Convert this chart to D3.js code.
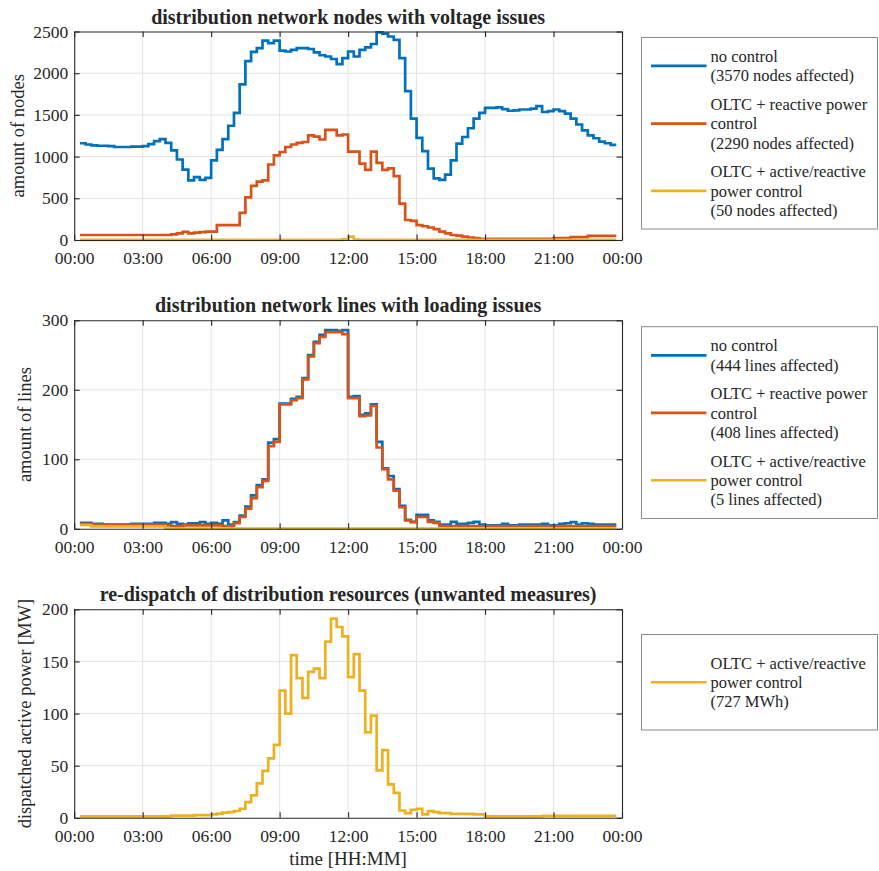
<!DOCTYPE html>
<html>
<head>
<meta charset="utf-8">
<script src="https://cdn.jsdelivr.net/npm/d3@7"></script>
<style>
  html, body { margin: 0; padding: 0; background: #fff; }
  svg text { font-family: "Liberation Serif", "Times New Roman", serif; fill: #262626; }
</style>
</head>
<body>
<svg id="fig" width="879" height="871"></svg>
<script>
// 15-minute resolution, samples from 00:15 to 23:45 (hours)
const timeHours = d3.range(95).map(i => 0.25 + 0.25 * i);
const xTickHours = [0, 3, 6, 9, 12, 15, 18, 21, 24];
const xTickLabels = ["00:00", "03:00", "06:00", "09:00", "12:00", "15:00", "18:00", "21:00", "00:00"];

// nodes with voltage issues
const nodesNoControl = [
  1160, 1145, 1135, 1130, 1130, 1125, 1115, 1115, 1115, 1120, 1120, 1125, 1150, 1185, 1210, 1165,
  1075, 965, 845, 715, 755, 720, 745, 955, 1080, 1210, 1370, 1525, 1865, 2145, 2255, 2300,
  2390, 2360, 2390, 2270, 2260, 2280, 2300, 2300, 2290, 2250, 2215, 2200, 2170, 2110, 2180, 2260,
  2200, 2280, 2310, 2350, 2490, 2475, 2440, 2400, 2180, 1785, 1455, 1225, 1065, 855, 740, 720,
  785, 955, 1155, 1235, 1340, 1455, 1525, 1585, 1585, 1590, 1570, 1550, 1555, 1565, 1565, 1575,
  1605, 1535, 1545, 1565, 1545, 1515, 1455, 1385, 1315, 1255, 1220, 1180, 1160, 1140, 1140
];
const nodesReactive = [
  60, 60, 60, 60, 60, 60, 60, 60, 60, 60, 60, 60, 60, 60, 60, 60,
  68, 80, 98, 80, 88, 95, 100, 100, 178, 178, 178, 178, 325, 510, 650, 700,
  715, 905, 1015, 1055, 1115, 1145, 1165, 1175, 1255, 1240, 1205, 1320, 1320, 1255, 1265, 1060,
  1060, 915, 840, 1060, 925, 840, 860, 765, 435, 240, 230, 178, 165, 150, 130, 100,
  80, 60, 52, 40, 30, 22, 15, 15, 15, 15, 15, 15, 15, 15, 15, 15,
  15, 15, 15, 22, 22, 22, 35, 35, 35, 50, 50, 50, 50, 50, 50
];
const nodesActiveReactive = [
  2, 2, 2, 2, 2, 2, 2, 2, 2, 2, 2, 2, 2, 2, 2, 2,
  2, 2, 2, 2, 2, 2, 2, 2, 2, 2, 2, 2, 2, 2, 2, 2,
  2, 2, 2, 2, 2, 2, 2, 2, 2, 2, 2, 2, 2, 2, 8, 40,
  4, 2, 2, 2, 2, 2, 2, 2, 2, 2, 2, 2, 2, 2, 2, 2,
  2, 2, 2, 2, 2, 2, 2, 2, 2, 2, 2, 2, 2, 2, 2, 2,
  2, 2, 2, 2, 2, 2, 2, 2, 2, 2, 2, 2, 2, 2, 2
];

// lines with loading issues
const linesNoControl = [
  8.5, 8.5, 7, 7, 6, 6, 6, 6, 6, 7, 7, 7, 7, 8.5, 8.5, 7,
  9.5, 7, 6, 8, 8, 9.5, 7, 8.5, 7, 12, 6, 9.5, 19, 32, 48, 63,
  71, 124, 129, 180, 180, 187, 190, 217, 250, 269, 279, 286, 286, 285, 286, 190,
  191, 164, 166, 179, 125, 87, 76, 57, 33, 13, 10, 20, 20, 12, 10, 6,
  6, 10, 7, 7, 8.5, 10, 6, 5, 5, 5, 7, 5, 5, 6, 6, 6,
  6, 7, 5, 5, 7, 8, 9.5, 6, 8, 7, 6, 6, 6, 6, 6
];
const linesReactive = [
  7, 7, 6, 6, 6, 5, 5, 5, 5, 6, 6, 6, 6, 6, 6, 5,
  4, 4, 5, 5, 5, 5, 5, 5, 5, 4, 4, 8, 17, 29, 44, 60,
  69, 119, 125, 179, 179, 185, 188, 215, 248, 267, 276, 283, 283, 283, 280, 188,
  188, 162, 163, 177, 117, 86, 71, 55, 31, 12, 9.5, 17, 17, 10, 8.5, 4,
  4, 4, 4, 4, 4, 4, 4, 4, 4, 4, 4, 4, 4, 4, 4, 4,
  4, 4, 4, 4, 4, 4, 4, 4, 4, 4, 4, 4, 4, 4, 4
];
const linesActiveReactive = [
  5.5, 5.5, 3.5, 3.5, 3.5, 3.5, 3.5, 3.5, 3.5, 3.5, 3.5, 3.5, 3.5, 3.5, 3.5, 0.4,
  0.4, 0.4, 0.4, 0.4, 0.4, 0.4, 0.4, 0.4, 0.4, 0.4, 0.4, 0.4, 0.4, 0.4, 0.4, 0.4,
  0.4, 0.4, 0.4, 0.4, 0.4, 0.4, 0.4, 0.4, 0.4, 0.4, 0.4, 0.4, 0.4, 0.4, 0.4, 0.4,
  0.4, 0.4, 0.4, 0.4, 0.4, 0.4, 0.4, 0.4, 0.4, 0.4, 0.4, 0.4, 0.4, 0.4, 0.4, 0.4,
  0.4, 0.4, 0.4, 0.4, 0.4, 0.4, 0.4, 0.4, 0.4, 0.4, 0.4, 0.4, 0.4, 0.4, 0.4, 0.4,
  0.4, 0.4, 0.4, 0.4, 0.4, 0.4, 0.4, 0.4, 0.4, 0.4, 0.4, 0.4, 0.4, 0.4, 0.4
];

// re-dispatched active power [MW]
const redispatchMW = [
  1.3, 1.3, 1.3, 1.3, 1.3, 1.3, 1.3, 1.3, 1.3, 1.3, 1.3, 1.3, 1.3, 1.3, 1.3, 1.3,
  2, 2, 2, 2, 2.5, 2.5, 2.5, 3.2, 4, 5, 5.5, 6.5, 8.7, 15, 21.5, 33,
  45, 57, 70, 122, 100, 156, 134, 115, 140, 143, 134, 169, 191, 183, 174, 135,
  157, 122, 82, 98, 45.5, 65, 32, 24, 7, 4.5, 7.7, 8.7, 3.2, 6.4, 5.4, 4.5,
  4.5, 3.8, 3.8, 3.8, 3.8, 3.2, 3.2, 1.3, 1.3, 1.3, 1.3, 1.3, 1.3, 1.3, 1.3, 1.3,
  1.3, 1.9, 1.9, 1.9, 1.9, 1.9, 1.9, 1.9, 1.9, 1.9, 1.9, 1.9, 1.9, 1.9, 1.9
];

const nodeTicks = [0, 500, 1000, 1500, 2000, 2500];
const lineTicks = [0, 100, 200, 300];
const powerTicks = [0, 50, 100, 150, 200];

const COLORS = { blue: "#0072BD", orange: "#D95319", yellow: "#EDB120" };

const panels = [
  {
    top: 31.5, yMax: 2500, yTicks: nodeTicks, yLabel: "amount of nodes", yLabelX: 18,
    title: "distribution network nodes with voltage issues",
    series: [
      { values: nodesNoControl, color: COLORS.blue, legend: ["no control", "(3570 nodes affected)"] },
      { values: nodesReactive, color: COLORS.orange, legend: ["OLTC + reactive power", "control", "(2290 nodes affected)"] },
      { values: nodesActiveReactive, color: COLORS.yellow, legend: ["OLTC + active/reactive", "power control", "(50 nodes affected)"] }
    ],
    legendBox: { top: 37.5, bottom: 229 }
  },
  {
    top: 320.3, yMax: 300, yTicks: lineTicks, yLabel: "amount of lines", yLabelX: 25,
    title: "distribution network lines with loading issues",
    series: [
      { values: linesNoControl, color: COLORS.blue, legend: ["no control", "(444 lines affected)"] },
      { values: linesReactive, color: COLORS.orange, legend: ["OLTC + reactive power", "control", "(408 lines affected)"] },
      { values: linesActiveReactive, color: COLORS.yellow, legend: ["OLTC + active/reactive", "power control", "(5 lines affected)"] }
    ],
    legendBox: { top: 326.7, bottom: 518.5 }
  },
  {
    top: 609.3, yMax: 200, yTicks: powerTicks, yLabel: "dispatched active power [MW]", yLabelX: 25,
    title: "re-dispatch of distribution resources (unwanted measures)",
    series: [
      { values: redispatchMW, color: COLORS.yellow, legend: ["OLTC + active/reactive", "power control", "(727 MWh)"] }
    ],
    legendBox: { top: 634.5, bottom: 730 }
  }
];

const svg = d3.select("#fig");
const plotLeft = 74.2, plotRight = 622, plotHeight = 208.5;
const tickLen = 5.5;
const textColor = "#262626";
const serif = '"Liberation Serif", "Times New Roman", serif';

const x = d3.scaleLinear().domain([0, 24]).range([plotLeft, plotRight]);

panels.forEach(p => {
  const bottom = p.top + plotHeight;
  const y = d3.scaleLinear().domain([0, p.yMax]).range([bottom, p.top]);
  const g = svg.append("g");

  // grid
  g.append("g").selectAll("line").data(xTickHours.slice(1, -1)).join("line")
    .attr("x1", d => x(d)).attr("x2", d => x(d))
    .attr("y1", p.top).attr("y2", bottom)
    .attr("stroke", "#e3e3e3").attr("stroke-width", 1);
  g.append("g").selectAll("line").data(p.yTicks.slice(1, -1)).join("line")
    .attr("x1", plotLeft).attr("x2", plotRight)
    .attr("y1", d => y(d)).attr("y2", d => y(d))
    .attr("stroke", "#e3e3e3").attr("stroke-width", 1);

  // series as stairs
  const line = d3.line()
    .x((d, i) => x(timeHours[i]))
    .y(d => y(d))
    .curve(d3.curveStepAfter);
  p.series.forEach(s => {
    g.append("path")
      .attr("d", line(s.values))
      .attr("fill", "none")
      .attr("stroke", s.color)
      .attr("stroke-width", 2.7)
      .attr("stroke-linejoin", "miter");
  });

  // axes (ticks pointing inward, box on)
  const xAxisB = d3.axisBottom(x).tickValues(xTickHours).tickSizeInner(-tickLen).tickSizeOuter(0)
    .tickFormat((d, i) => xTickLabels[i]).tickPadding(12);
  const xAxisT = d3.axisTop(x).tickValues(xTickHours).tickSizeInner(-tickLen).tickSizeOuter(0).tickFormat("");
  const yAxisL = d3.axisLeft(y).tickValues(p.yTicks).tickSizeInner(-tickLen).tickSizeOuter(0)
    .tickFormat(d3.format("d")).tickPadding(6);
  const yAxisR = d3.axisRight(y).tickValues(p.yTicks).tickSizeInner(-tickLen).tickSizeOuter(0).tickFormat("");

  const styleAxis = sel => {
    sel.attr("font-family", serif).attr("font-size", 17.5);
    sel.select(".domain").attr("stroke", textColor).attr("stroke-width", 1.1);
    sel.selectAll(".tick line").attr("stroke", textColor).attr("stroke-width", 1.1);
    sel.selectAll(".tick text").attr("fill", textColor)
      .style("font-family", serif)
      .style("font-size", "17.5px");
  };

  g.append("g").attr("transform", `translate(0,${bottom})`).call(xAxisB).call(styleAxis);
  g.append("g").attr("transform", `translate(0,${p.top})`).call(xAxisT).call(styleAxis);
  g.append("g").attr("transform", `translate(${plotLeft},0)`).call(yAxisL).call(styleAxis);
  g.append("g").attr("transform", `translate(${plotRight},0)`).call(yAxisR).call(styleAxis);

  // title
  g.append("text")
    .attr("x", (plotLeft + plotRight) / 2).attr("y", p.top - 8)
    .attr("text-anchor", "middle")
    .style("font-size", "20px").style("font-weight", "bold")
    .text(p.title);

  // y label
  g.append("text")
    .attr("transform", `translate(${p.yLabelX},${(p.top + bottom) / 2}) rotate(-90)`)
    .attr("text-anchor", "middle").attr("dy", "0.35em")
    .style("font-size", "18.5px")
    .text(p.yLabel);

  // legend
  const lb = p.legendBox;
  const lg = g.append("g");
  lg.append("rect")
    .attr("x", 641.5).attr("y", lb.top)
    .attr("width", 236).attr("height", lb.bottom - lb.top)
    .attr("fill", "#fff").attr("stroke", "#8a8a8a").attr("stroke-width", 1);

  const lineH = 19.3, entryGap = 9.4;
  const totalLines = p.series.reduce((a, s) => a + s.legend.length, 0);
  const blockH = totalLines * lineH + (p.series.length - 1) * entryGap;
  let cy = (lb.top + lb.bottom) / 2 - blockH / 2 + lineH / 2;
  p.series.forEach(s => {
    const n = s.legend.length;
    const midY = cy + (n - 1) * lineH / 2;
    lg.append("line")
      .attr("x1", 651).attr("x2", 706.5)
      .attr("y1", midY).attr("y2", midY)
      .attr("stroke", s.color).attr("stroke-width", 2.7);
    s.legend.forEach((t, k) => {
      lg.append("text")
        .attr("x", 710.5).attr("y", cy + k * lineH)
        .attr("dy", "0.35em")
        .style("font-size", "16.5px")
        .text(t);
    });
    cy += n * lineH + entryGap;
  });
});

// shared x label
svg.append("text")
  .attr("x", (plotLeft + plotRight) / 2).attr("y", 865)
  .attr("text-anchor", "middle")
  .style("font-size", "19px")
  .text("time [HH:MM]");
</script>
</body>
</html>
